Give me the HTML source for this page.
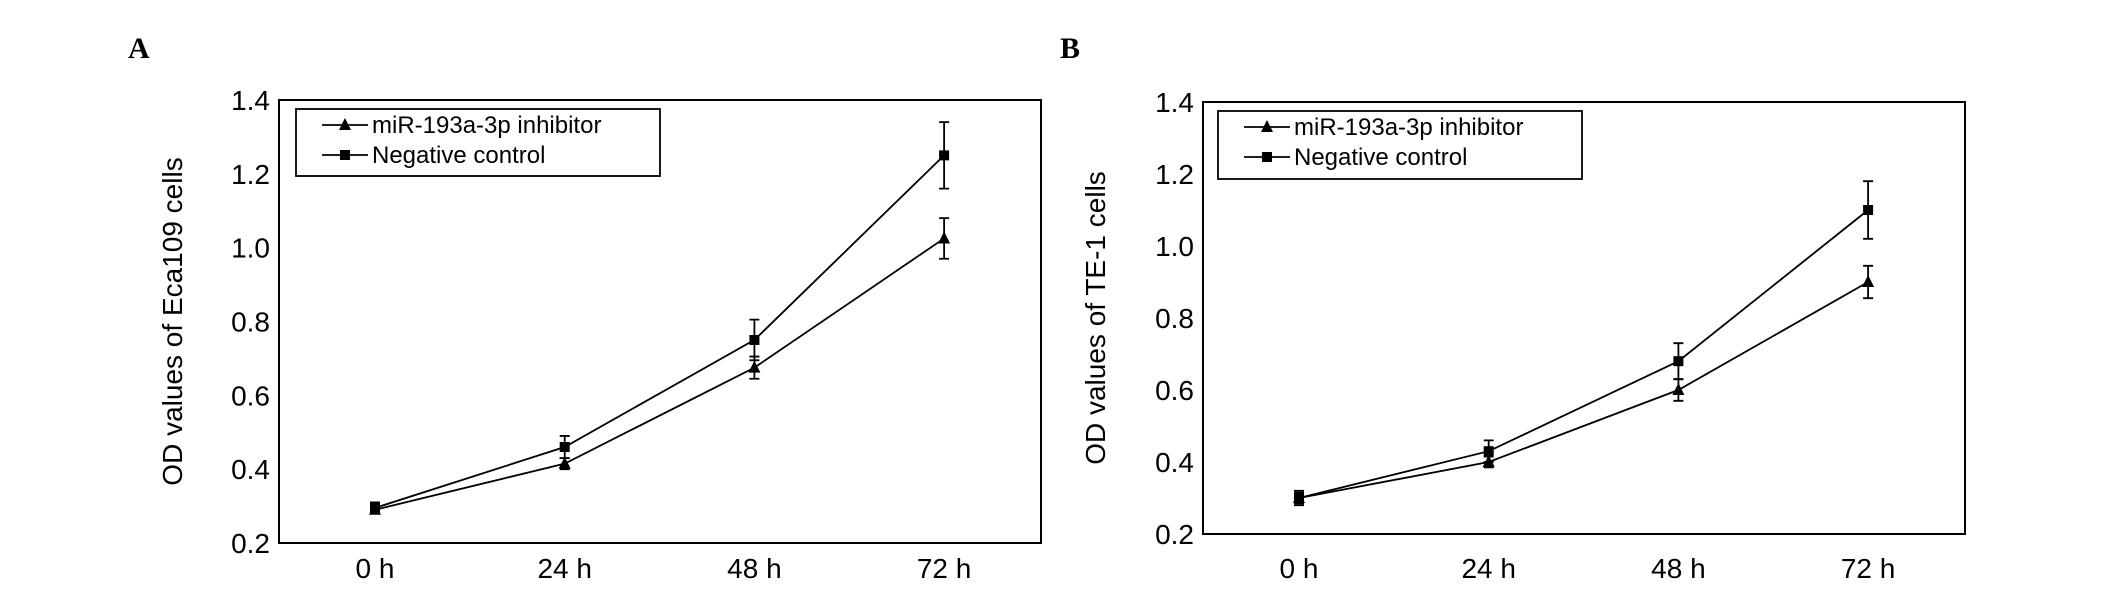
<!DOCTYPE html>
<html><head><meta charset="utf-8"><style>
html,body{margin:0;padding:0;background:#fff;}
svg{display:block;font-family:"Liberation Sans",Arial,sans-serif;}
</style></head><body>
<svg id="c" width="2126" height="590" viewBox="0 0 2126 590"></svg>
<script>
const categories = ["0 h","24 h","48 h","72 h"];
const yTicks = [0.2,0.4,0.6,0.8,1.0,1.2,1.4];
const yTickLabels = ["0.2","0.4","0.6","0.8","1.0","1.2","1.4"];
const aInhibitor = [0.29,0.415,0.675,1.025];
const aInhibitorErr = [0.01,0.015,0.03,0.055];
const aControl = [0.295,0.46,0.75,1.25];
const aControlErr = [0.015,0.03,0.055,0.09];
const bInhibitor = [0.30,0.40,0.60,0.90];
const bInhibitorErr = [0.02,0.015,0.03,0.045];
const bControl = [0.30,0.43,0.68,1.10];
const bControlErr = [0.015,0.03,0.05,0.08];

const NS="http://www.w3.org/2000/svg";
const svg=document.getElementById('c');
function mk(tag,attrs,parent){const e=document.createElementNS(NS,tag);for(const k in attrs)e.setAttribute(k,attrs[k]);(parent||svg).appendChild(e);return e;}

function panel(cfg){
  const g=mk('g',{});
  
  
  const {L,R,T,B}=cfg;
  const y=v=>B-(v-0.2)/1.2*(B-T);
  const x=i=>cfg.xs0+i*cfg.dx;
  const lbl=mk('text',{x:cfg.letterX,y:58,'font-family':'"Liberation Serif",serif','font-weight':'bold','font-size':30},g);
  lbl.textContent=cfg.letter;
  
  
  const box=mk('rect',{x:L,y:T,width:R-L,height:B-T,fill:'none',stroke:'#000','stroke-width':2},g);
  
  
  yTicks.forEach((v,i)=>{
    const t=mk('text',{x:L-9,y:y(v)+10,'text-anchor':'end','font-size':28},g);
    t.textContent=yTickLabels[i];
    
    
  });
  categories.forEach((c,i)=>{
    const t=mk('text',{x:x(i),y:578,'text-anchor':'middle','font-size':28},g);
    t.textContent=c;
    
    
  });
  const yt=mk('text',{x:0,y:0,'text-anchor':'middle','font-size':28,transform:`translate(${cfg.titleX},${(T+B)/2}) rotate(-90)`},g);
  yt.textContent=cfg.title;
  
  
  const series=[{v:cfg.inh,e:cfg.inhE,m:'tri',n:'series-inhibitor'},{v:cfg.ctl,e:cfg.ctlE,m:'sq',n:'series-control'}];
  series.forEach(s=>{
    const sg=mk('g',{},g);
    
    
    const pl=mk('polyline',{points:s.v.map((v,i)=>x(i)+','+y(v)).join(' '),fill:'none',stroke:'#000','stroke-width':1.8},sg);
    
    
    s.v.forEach((v,i)=>{
      const X=x(i),y1=y(v+s.e[i]),y2=y(v-s.e[i]);
      const eb=mk('path',{d:`M${X},${y1}V${y2}M${X-5},${y1}H${X+5}M${X-5},${y2}H${X+5}`,stroke:'#000','stroke-width':1.8,fill:'none'},sg);
      
      
      let m;
      if(s.m==='sq') m=mk('rect',{x:X-5,y:y(v)-5,width:10,height:10,fill:'#000'},sg);
      else m=mk('polygon',{points:`${X},${y(v)-7} ${X-6},${y(v)+5} ${X+6},${y(v)+5}`,fill:'#000'},sg);
      
      
    });
  });
  const lg=mk('g',{},g);
  
  
  const lb=cfg.legend;
  mk('rect',{x:lb[0],y:lb[1],width:lb[2]-lb[0],height:lb[3]-lb[1],fill:'#fff',stroke:'#000','stroke-width':1.8},lg);
  const rows=[{t:'miR-193a-3p inhibitor',m:'tri',yy:lb[1]+16},{t:'Negative control',m:'sq',yy:lb[1]+46}];
  rows.forEach(r=>{
    const eg=mk('g',{},lg);
    
    
    const sx=lb[0]+26;
    mk('line',{x1:sx,x2:sx+46,y1:r.yy,y2:r.yy,stroke:'#000','stroke-width':1.8},eg);
    const cx=sx+23;
    if(r.m==='sq') mk('rect',{x:cx-5,y:r.yy-5,width:10,height:10,fill:'#000'},eg);
    else mk('polygon',{points:`${cx},${r.yy-7} ${cx-6},${r.yy+5} ${cx+6},${r.yy+5}`,fill:'#000'},eg);
    const t=mk('text',{x:sx+50,y:r.yy+8,'font-size':24},eg);
    t.textContent=r.t;
  });
}
panel({name:'panel-a',letter:'A',letterX:128,L:279,R:1041,T:100,B:543,xs0:375,dx:189.7,title:'OD values of Eca109  cells',titleX:182,
  inh:aInhibitor,inhE:aInhibitorErr,ctl:aControl,ctlE:aControlErr,legend:[296,109,660,176]});
panel({name:'panel-b',letter:'B',letterX:1060,L:1203,R:1965,T:102,B:534,xs0:1299,dx:189.7,title:'OD values of TE-1  cells',titleX:1105,
  inh:bInhibitor,inhE:bInhibitorErr,ctl:bControl,ctlE:bControlErr,legend:[1218,111,1582,179]});
</script>
</body></html>
